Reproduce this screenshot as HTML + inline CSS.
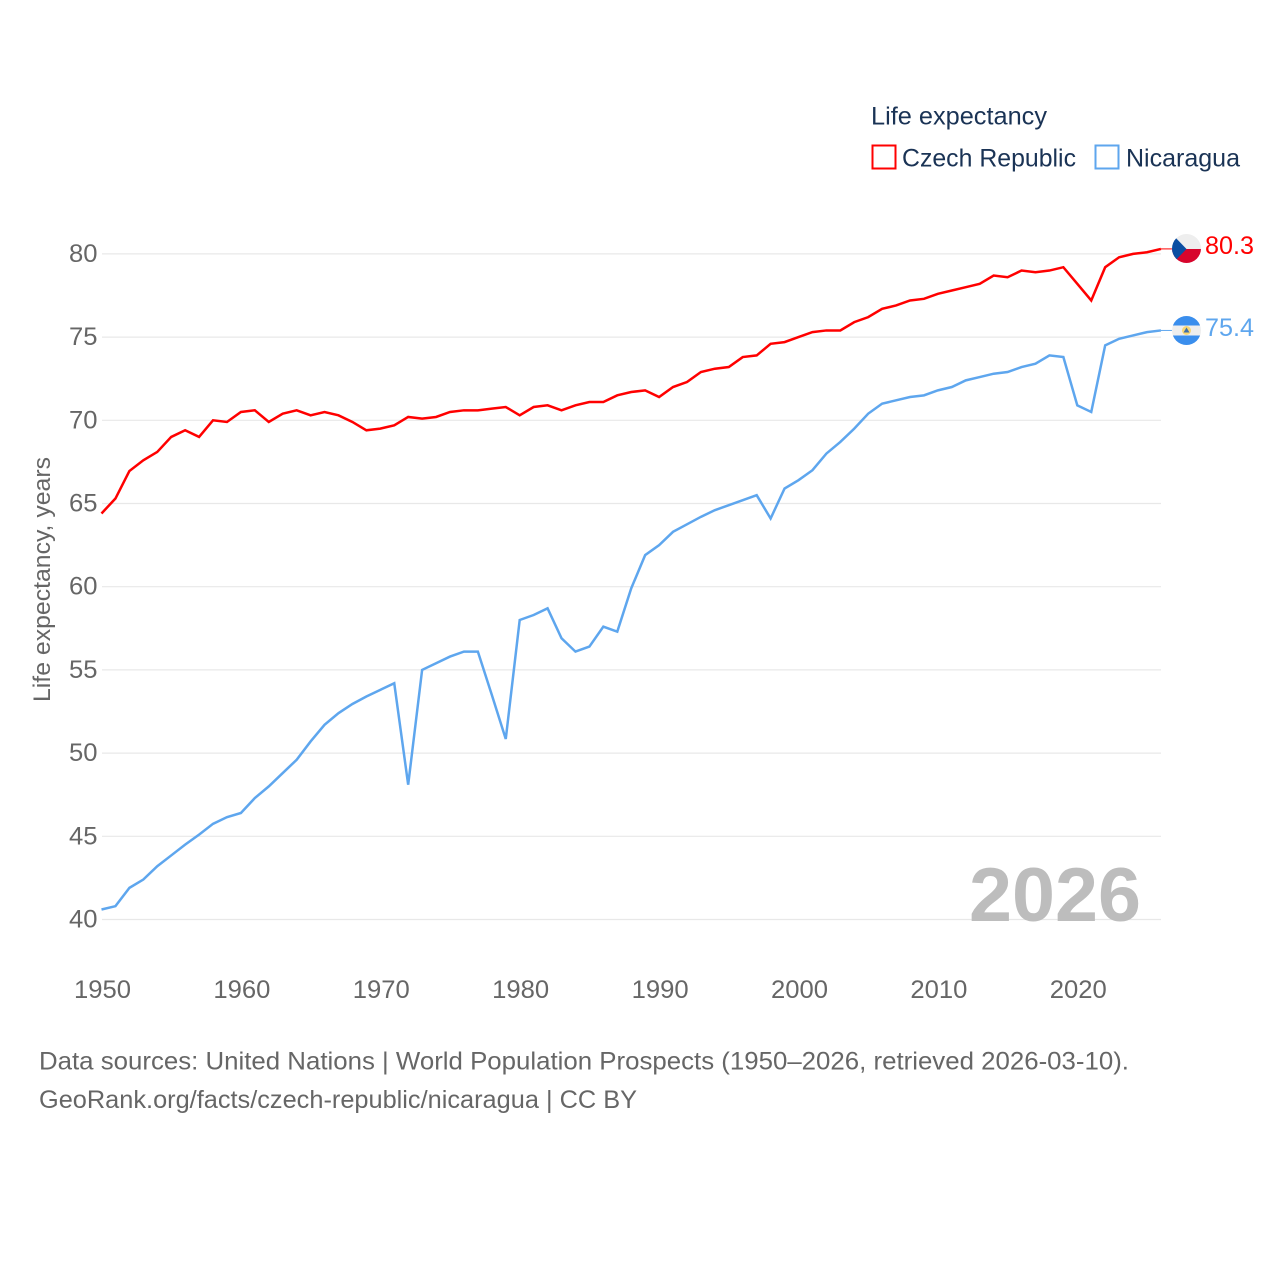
<!DOCTYPE html>
<html lang="en">
<head>
<meta charset="utf-8">
<title>Life expectancy: Czech Republic and Nicaragua</title>
<style>
html,body{margin:0;padding:0;background:#fff;}
svg{display:block;font-family:"Liberation Sans",sans-serif;}
</style>
</head>
<body>
<svg id="chart" xmlns="http://www.w3.org/2000/svg" width="1280" height="1280" viewBox="0 0 1280 1280">
  <rect x="0" y="0" width="1280" height="1280" fill="#fff"/>
  <g id="grid"></g>
  <text x="969" y="921" font-size="76" font-weight="bold" fill="#bdbdbd" textLength="172" lengthAdjust="spacingAndGlyphs">2026</text>
  <g id="y-ticks"></g>
  <g id="x-ticks"></g>
  <text transform="translate(50,702) rotate(-90)" font-size="24" fill="#666" textLength="245" lengthAdjust="spacingAndGlyphs">Life expectancy, years</text>
  <g id="series"></g>

  <g>
    <text x="871" y="124.5" font-size="25" fill="#1a3355" textLength="176" lengthAdjust="spacingAndGlyphs">Life expectancy</text>
    <rect x="872.5" y="145.5" width="23" height="23" fill="none" stroke="#ff0000" stroke-width="2"/>
    <text x="902" y="166.5" font-size="25" fill="#1a3355" textLength="174" lengthAdjust="spacingAndGlyphs">Czech Republic</text>
    <rect x="1095.5" y="145.5" width="23" height="23" fill="none" stroke="#5ea6ee" stroke-width="2"/>
    <text x="1126" y="166.5" font-size="25" fill="#1a3355" textLength="114" lengthAdjust="spacingAndGlyphs">Nicaragua</text>
  </g>

  <defs>
    <clipPath id="clip-cz"><circle cx="1186.5" cy="248.5" r="14.5"/></clipPath>
    <clipPath id="clip-ni"><circle cx="1186.5" cy="330.5" r="14.5"/></clipPath>
  </defs>
  <g clip-path="url(#clip-cz)">
    <rect x="1172" y="234" width="29" height="15" fill="#eeeeee"/>
    <rect x="1172" y="249" width="29" height="15" fill="#d7052c"/>
    <polygon points="1172,234 1186.5,249 1172,264" fill="#0b4ea2"/>
  </g>
  <g clip-path="url(#clip-ni)">
    <rect x="1172" y="316" width="29" height="29" fill="#eeeeee"/>
    <rect x="1172" y="316" width="29" height="9.5" fill="#3a8eed"/>
    <rect x="1172" y="335.5" width="29" height="9.5" fill="#3a8eed"/>
    <circle cx="1186.5" cy="330.5" r="4.5" fill="#f7d774"/>
    <polygon points="1186.5,327.5 1189.5,332.5 1183.5,332.5" fill="#3f6fa8"/>
  </g>

  <text x="1205" y="254" font-size="25" fill="#ff0000" textLength="49" lengthAdjust="spacingAndGlyphs">80.3</text>
  <text x="1205" y="336" font-size="25" fill="#5ea6ee" textLength="49" lengthAdjust="spacingAndGlyphs">75.4</text>

  <text x="39" y="1069.5" font-size="25" fill="#666" textLength="1090" lengthAdjust="spacingAndGlyphs">Data sources: United Nations | World Population Prospects (1950–2026, retrieved 2026-03-10).</text>
  <text x="39" y="1108" font-size="25" fill="#666" textLength="598" lengthAdjust="spacingAndGlyphs">GeoRank.org/facts/czech-republic/nicaragua | CC BY</text>
</svg>
<script>
const startYear = 1950;
const yTickValues = [40, 45, 50, 55, 60, 65, 70, 75, 80];
const xTickValues = [1950, 1960, 1970, 1980, 1990, 2000, 2010, 2020];
const czechRepublic = [
  64.4, 65.3, 66.95, 67.6, 68.1, 69.0, 69.4, 69.0, 70.0, 69.9,
  70.5, 70.6, 69.9, 70.4, 70.6, 70.3, 70.5, 70.3, 69.9, 69.4,
  69.5, 69.7, 70.2, 70.1, 70.2, 70.5, 70.6, 70.6, 70.7, 70.8,
  70.3, 70.8, 70.9, 70.6, 70.9, 71.1, 71.1, 71.5, 71.7, 71.8,
  71.4, 72.0, 72.3, 72.9, 73.1, 73.2, 73.8, 73.9, 74.6, 74.7,
  75.0, 75.3, 75.4, 75.4, 75.9, 76.2, 76.7, 76.9, 77.2, 77.3,
  77.6, 77.8, 78.0, 78.2, 78.7, 78.6, 79.0, 78.9, 79.0, 79.2,
  78.2, 77.2, 79.2, 79.8, 80.0, 80.1, 80.3
];
const nicaragua = [
  40.6, 40.8, 41.9, 42.4, 43.2, 43.85, 44.5, 45.1, 45.75, 46.15,
  46.4, 47.3, 48.0, 48.8, 49.6, 50.7, 51.7, 52.4, 52.95, 53.4,
  53.8, 54.2, 48.1, 55.0, 55.4, 55.8, 56.1, 56.1, 53.5, 50.85,
  58.0, 58.3, 58.7, 56.9, 56.1, 56.4, 57.6, 57.3, 59.9, 61.9,
  62.5, 63.3, 63.75, 64.2, 64.6, 64.9, 65.2, 65.5, 64.1, 65.9,
  66.4, 67.0, 68.0, 68.7, 69.5, 70.4, 71.0, 71.2, 71.4, 71.5,
  71.8, 72.0, 72.4, 72.6, 72.8, 72.9, 73.2, 73.4, 73.9, 73.8,
  70.9, 70.5, 74.5, 74.9, 75.1, 75.3, 75.4
];

const NS = 'http://www.w3.org/2000/svg';
function xScale(year) { return 101.5 + (year - 1950) * 13.94; }
function yScale(v) { return 919.5 - (v - 40) * 16.64; }

const grid = document.getElementById('grid');
const yTicks = document.getElementById('y-ticks');
const xTicks = document.getElementById('x-ticks');
const seriesGroup = document.getElementById('series');

yTickValues.forEach(function (v) {
  const line = document.createElementNS(NS, 'line');
  
  
  line.setAttribute('x1', 102);
  line.setAttribute('x2', 1161);
  line.setAttribute('y1', yScale(v));
  line.setAttribute('y2', yScale(v));
  line.setAttribute('stroke', '#e8e8e8');
  line.setAttribute('stroke-width', '1.2');
  grid.appendChild(line);

  const label = document.createElementNS(NS, 'text');
  
  
  label.setAttribute('x', 69);
  label.setAttribute('y', yScale(v) + 8);
  label.setAttribute('font-size', '25');
  label.setAttribute('fill', '#666');
  label.setAttribute('textLength', '28.5');
  label.setAttribute('lengthAdjust', 'spacingAndGlyphs');
  label.textContent = String(v);
  yTicks.appendChild(label);
});

xTickValues.forEach(function (year) {
  const label = document.createElementNS(NS, 'text');
  
  
  label.setAttribute('x', xScale(year) - 27.5);
  label.setAttribute('y', 998);
  label.setAttribute('font-size', '25');
  label.setAttribute('fill', '#666');
  label.setAttribute('textLength', '57');
  label.setAttribute('lengthAdjust', 'spacingAndGlyphs');
  label.textContent = String(year);
  xTicks.appendChild(label);
});

function drawSeries(values, color, name) {
  const lastX = xScale(startYear + values.length - 1);
  const lastY = yScale(values[values.length - 1]);

  const connector = document.createElementNS(NS, 'line');
  
  
  connector.setAttribute('x1', lastX);
  connector.setAttribute('x2', lastX + 11);
  connector.setAttribute('y1', lastY);
  connector.setAttribute('y2', lastY);
  connector.setAttribute('stroke', color);
  connector.setAttribute('stroke-width', '1');
  seriesGroup.appendChild(connector);

  const path = document.createElementNS(NS, 'polyline');
  
  
  path.setAttribute('fill', 'none');
  path.setAttribute('stroke', color);
  path.setAttribute('stroke-width', '2.5');
  path.setAttribute('stroke-linejoin', 'miter');
  path.setAttribute('points', values.map(function (v, i) {
    return xScale(startYear + i).toFixed(2) + ',' + yScale(v).toFixed(2);
  }).join(' '));
  seriesGroup.appendChild(path);
}
drawSeries(nicaragua, '#5ea6ee', 'nicaragua');
drawSeries(czechRepublic, '#ff0000', 'czech-republic');
</script>
</body>
</html>
